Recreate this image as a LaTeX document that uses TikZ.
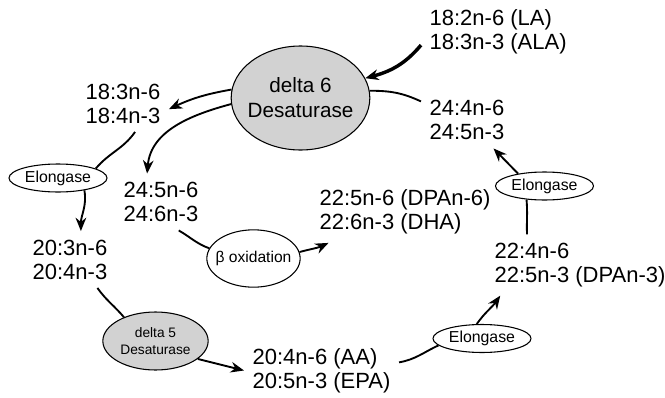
\documentclass[tikz,border=0pt]{standalone}
\usepackage{fontspec}
\setmainfont{Liberation Sans}
\usetikzlibrary{arrows.meta,shapes.geometric}

\begin{document}
\begin{tikzpicture}[
  x=0.75pt, y=0.75pt,
  >={Stealth[length=10pt,width=8pt]},
  acid/.style={align=left, anchor=west, inner sep=2pt, outer sep=4.5pt, font=\fontsize{16.5}{18}\selectfont},
  enzyme/.style={ellipse, draw=black, line width=0.8pt, inner sep=0pt, align=center},
  desat/.style={enzyme, fill=gray!35},
  elong/.style={enzyme, fill=white, minimum width=73.5pt, minimum height=21pt, font=\fontsize{11.9}{14}\selectfont},
  flow/.style={line width=1.4pt},
  arrow/.style={flow, ->}
]
\useasboundingbox (0,0) rectangle (665,-397);
\node[acid] (la) at (421,-31.5) {18:2n-6 (LA)\\18:3n-3 (ALA)};
\node[acid] (c18) at (77,-103.5) {18:3n-6\\18:4n-3};
\node[acid] (c24a) at (421,-120) {24:4n-6\\24:5n-3};
\node[acid] (c24b) at (115,-202) {24:5n-6\\24:6n-3};
\node[acid] (dha) at (311,-212) {22:5n-6 (DPAn-6)\\22:6n-3 (DHA)};
\node[acid] (c20) at (24,-259.5) {20:3n-6\\20:4n-3};
\node[acid] (dpa) at (486,-265) {22:4n-6\\22:5n-3 (DPAn-3)};
\node[acid] (aa) at (244,-370.5) {20:4n-6 (AA)\\20:5n-3 (EPA)};
\node[desat, minimum width=104pt, minimum height=78pt, inner xsep=-3pt, font=\fontsize{15.5}{18.75}\selectfont] (dsix) at (300.5,-98) {delta 6\\Desaturase};
\node[desat, minimum width=79pt, minimum height=43.5pt, font=\fontsize{10.3}{12.75}\selectfont] (dfive) at (155.5,-341) {delta 5\\Desaturase};
\node[elong] (elA) at (58,-178) {Elongase};
\node[elong] (elB) at (544.5,-186) {Elongase};
\node[elong] (elC) at (482,-338.5) {Elongase};
\node[enzyme, minimum width=70pt, minimum height=43pt, inner xsep=-4pt, font=\fontsize{11.7}{14}\selectfont] (beta) at (253.5,-258.5) {β oxidation};
\draw[arrow, line width=2.6pt] (la.190) to[out=230,in=15] (dsix.17);
\draw[arrow] (dsix.173) to[out=190,in=25] (c18.-7);
\draw[arrow] (dsix.185) to[out=195,in=85] (c24b.116);
\draw[flow] (c24a.158) to[out=155,in=0] (dsix.6);
\draw[flow] (c18.-67) to[out=235,in=50] (elA.14);
\draw[arrow] (elA.-25) to[out=-80,in=90] (c20.69);
\draw[flow] (c24b.-58) to[out=-30,in=160] (beta.167);
\draw[arrow] (beta.8) to[out=15,in=205] (dha.202);
\draw[arrow] (elB.155) -- (c24a.-47);
\draw[flow] (dpa.150) to[out=92,in=-85] (elB.217);
\draw[flow] (c20.-46) to[out=-55,in=130] (dfive.143);
\draw[arrow] (dfive.-23) -- (aa.west);
\draw[flow] (aa.6) to[out=10,in=205] (elC.189);
\draw[arrow] (elC.110) to[out=55,in=235] (dpa.201);
\end{tikzpicture}
\end{document}
